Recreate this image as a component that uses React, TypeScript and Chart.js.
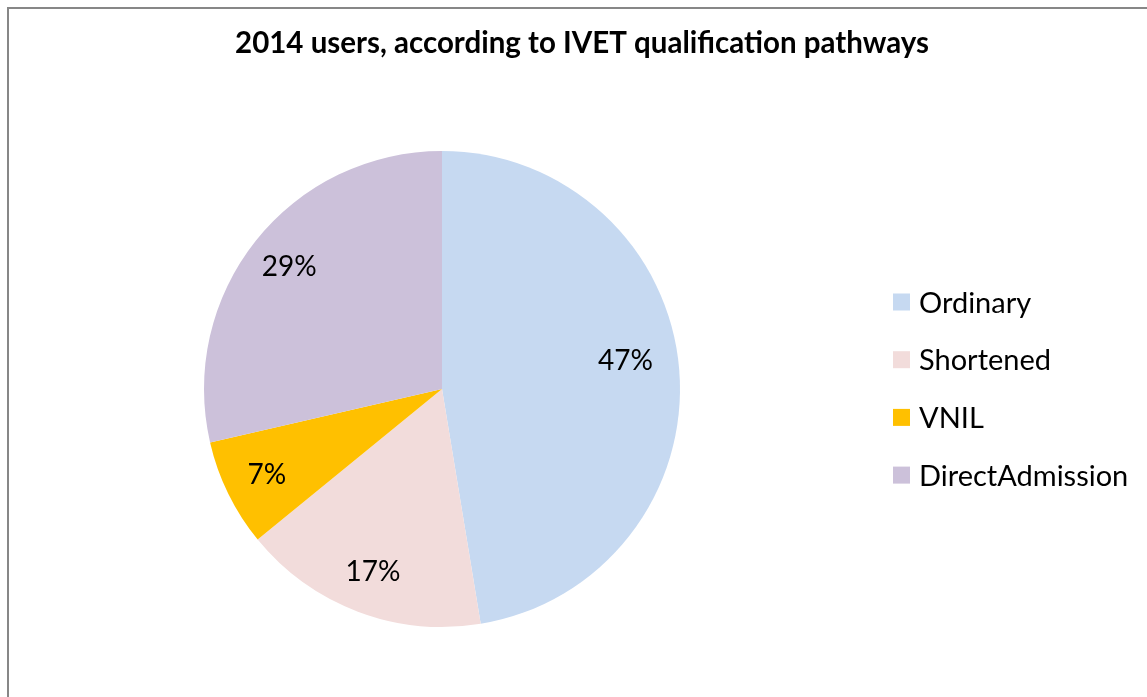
import React, { useEffect, useRef } from "react";
import { Chart, registerables } from "chart.js";

Chart.register(...registerables);

const title = "2014 users, according to IVET qualification pathways";
const categories = ["Ordinary", "Shortened", "VNIL", "DirectAdmission"];
const shares = [47.4, 16.7, 7.3, 28.6];
const colors = ["#C6D9F1", "#F2DCDB", "#FFC000", "#CCC1DA"];

const FONT = "Lato, 'Open Sans', sans-serif";

const titlePlugin = {
  id: "excelTitle",
  afterDraw(chart: any) {
    const { ctx } = chart;
    ctx.save();
    ctx.font = `bold 29.5px ${FONT}`;
    ctx.fillStyle = "#000";
    ctx.textAlign = "center";
    ctx.textBaseline = "alphabetic";
    ctx.fillText(title, 582, 53);
    ctx.restore();
  },
};

const legendPlugin = {
  id: "excelLegend",
  afterDraw(chart: any) {
    const { ctx } = chart;
    const labels = chart.data.labels as string[];
    const bg = chart.data.datasets[0].backgroundColor as string[];
    ctx.save();
    ctx.font = `29px ${FONT}`;
    ctx.textAlign = "left";
    ctx.textBaseline = "alphabetic";
    labels.forEach((lab, i) => {
      const cy = 302 + i * 57.7;
      ctx.fillStyle = bg[i];
      ctx.fillRect(893, cy - 8.5, 17, 17);
      ctx.fillStyle = "#000";
      ctx.fillText(lab, 919, cy + 10.5);
    });
    ctx.restore();
  },
};

const labelPlugin = {
  id: "sliceLabels",
  afterDatasetsDraw(chart: any) {
    const { ctx } = chart;
    const meta = chart.getDatasetMeta(0);
    const data = chart.data.datasets[0].data as number[];
    const total = data.reduce((a, b) => a + b, 0);
    ctx.save();
    ctx.font = `28px ${FONT}`;
    ctx.fillStyle = "#000";
    ctx.textAlign = "center";
    ctx.textBaseline = "middle";
    meta.data.forEach((arc: any, i: number) => {
      const { x, y, startAngle, endAngle, outerRadius } = arc.getProps(
        ["x", "y", "startAngle", "endAngle", "outerRadius"],
        true
      );
      const mid = (startAngle + endAngle) / 2 - (i === 0 ? 0.07 : 0);
      const r = outerRadius * (i === 0 ? 0.78 : 0.82);
      const pct = Math.round((data[i] / total) * 100) + "%";
      ctx.fillText(pct, x + Math.cos(mid) * r, y + Math.sin(mid) * r);
    });
    ctx.restore();
  },
};

export default function App() {
  const ref = useRef<HTMLCanvasElement>(null);
  useEffect(() => {
    document.body.style.overflow = "hidden";
    const chart = new Chart(ref.current!, {
      type: "pie",
      data: {
        labels: categories,
        datasets: [
          {
            data: shares,
            backgroundColor: colors,
            borderWidth: 0,
          },
        ],
      },
      options: {
        animation: false,
        responsive: false,
        layout: { padding: { left: 204, right: 467, top: 151, bottom: 70 } },
        plugins: {
          title: { display: false },
          legend: { display: false },
          tooltip: { enabled: false },
        },
      },
      plugins: [labelPlugin, titlePlugin, legendPlugin],
    });
    return () => chart.destroy();
  }, []);

  return (
    <div
      style={{
        position: "absolute",
        left: 0,
        top: 0,
        width: 1147,
        height: 697,
        overflow: "hidden",
        background: "#fff",
      }}
    >
      <div
        style={{
          position: "absolute",
          left: 7,
          top: 7,
          width: 1300,
          height: 800,
          border: "2px solid #878787",
          boxSizing: "border-box",
        }}
      />
      <canvas
        ref={ref}
        width={1147}
        height={697}
        style={{ position: "absolute", left: 0, top: 0 }}
      />
    </div>
  );
}
